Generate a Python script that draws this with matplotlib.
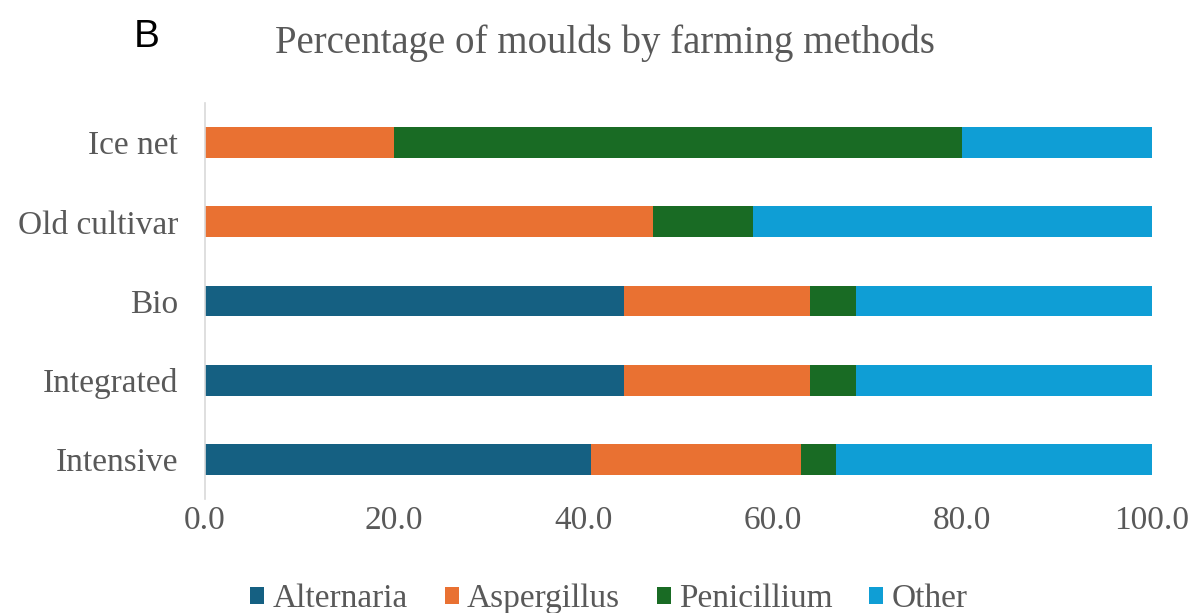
import matplotlib.pyplot as plt
import numpy as np

# data (percent per farming method)
methods = ['Intensive', 'Integrated', 'Bio', 'Old cultivar', 'Ice net']
alternaria = [40.8, 44.3, 44.3, 0.0, 0.0]
aspergillus = [22.2, 19.6, 19.6, 47.4, 20.0]
penicillium = [3.7, 4.9, 4.9, 10.5, 60.0]
other = [33.3, 31.2, 31.2, 42.1, 20.0]
series_names = ['Alternaria', 'Aspergillus', 'Penicillium', 'Other']
colors = ['#156082', '#E97132', '#196B24', '#0F9ED5']
xticks = [0, 20, 40, 60, 80, 100]

plt.rcParams['font.family'] = ['Liberation Serif', 'DejaVu Serif']
grey = '#595959'

fig = plt.figure(figsize=(11.91, 6.13), dpi=100)
ax = fig.add_axes([204.5 / 1191, 1 - 499 / 613, 947 / 1191, 396 / 613])

y = np.arange(len(methods))
left = np.zeros(len(methods))
for name, vals, c in zip(series_names, [alternaria, aspergillus, penicillium, other], colors):
    vals = np.array(vals)
    ax.barh(y, vals, left=left, height=0.39, color=c, label=name)
    left += vals

ax.set_xlim(0, 100)
ax.set_ylim(-0.5, len(methods) - 0.5)
ax.set_yticks(y)
ax.set_yticklabels(methods)
ax.set_xticks(xticks)
ax.set_xticklabels([f'{v:.1f}' for v in xticks])
ax.tick_params(axis='both', length=0, labelsize=24, colors=grey)
ax.tick_params(axis='x', pad=5)
ax.tick_params(axis='y', pad=19)
for s in ['top', 'right', 'bottom']:
    ax.spines[s].set_visible(False)
ax.spines['left'].set_color('#d9d9d9')
ax.spines['left'].set_linewidth(1.2)

fig.text(0.508, 1 - 43 / 613, 'Percentage of moulds by farming methods',
         ha='center', va='center', fontsize=28, color=grey)
fig.text(134 / 1191, 1 - 37 / 613, 'B', ha='left', va='center',
         fontsize=28, color='black', family='Liberation Sans')

fig.legend(loc='center', bbox_to_anchor=(609 / 1191, 1 - 599 / 613), ncol=4,
           frameon=False, fontsize=24, labelcolor=grey, handlelength=0.42,
           handleheight=0.42, handletextpad=0.25, columnspacing=1.1)

fig.savefig('out.png', dpi=100)
